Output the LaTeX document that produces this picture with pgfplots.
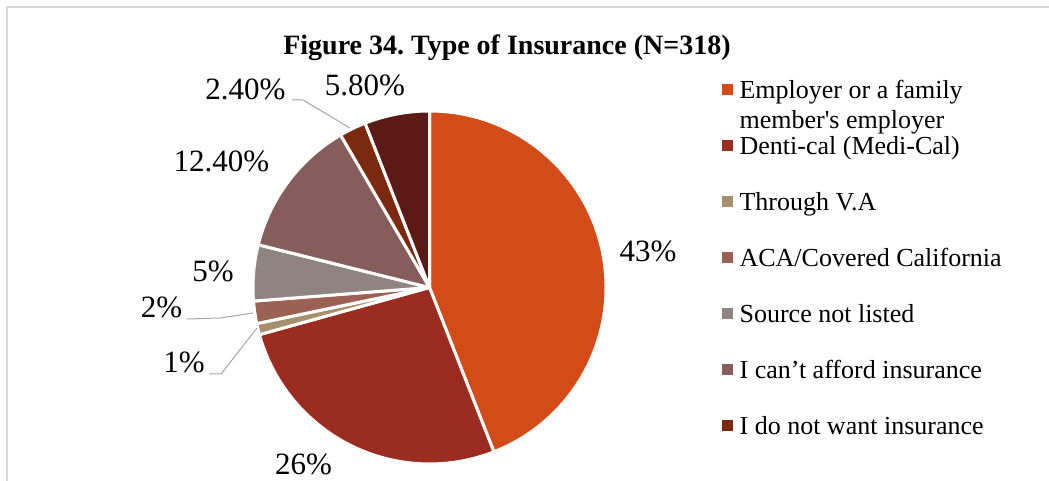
\documentclass[border=0pt]{standalone}
\usepackage{pgfplots}
\usepackage{pgfplotstable}
\pgfplotsset{compat=1.18}
\usepackage{fontspec}
\setmainfont{Liberation Serif}
\frenchspacing

\definecolor{c0}{HTML}{D24B18}
\definecolor{c1}{HTML}{9C2C20}
\definecolor{c2}{HTML}{A68F6C}
\definecolor{c3}{HTML}{9B6152}
\definecolor{c4}{HTML}{8F8482}
\definecolor{c5}{HTML}{875D5C}
\definecolor{c6}{HTML}{7C2A0F}
\definecolor{c7}{HTML}{5B1A15}
\definecolor{frame}{HTML}{D9D9D9}
\definecolor{leader}{HTML}{A6A6A6}

% share of each type of insurance (percent)
\pgfplotstableread{
value
43
26
1
2
5
12.4
2.4
5.8
}\piedata

% cumulative angles (clockwise from 12 o'clock, normalised to the total)
\xdef\total{0}
\foreach \i in {0,...,7}{%
  \pgfplotstablegetelem{\i}{value}\of\piedata
  \pgfmathsetmacro\t{\total+\pgfplotsretval}%
  \xdef\total{\t}%
}
\xdef\cum{0}
\foreach \i in {0,...,7}{%
  \pgfplotstablegetelem{\i}{value}\of\piedata
  \pgfmathsetmacro\sa{90-360*(\cum/\total)}%
  \pgfmathsetmacro\c{\cum+\pgfplotsretval}%
  \xdef\cum{\c}%
  \pgfmathsetmacro\ea{90-360*(\cum/\total)}%
  \expandafter\xdef\csname sa\i\endcsname{\sa}%
  \expandafter\xdef\csname ea\i\endcsname{\ea}%
}

\begin{document}
\begin{tikzpicture}
\begin{axis}[
  hide axis, scale only axis, clip=false,
  width=1049pt, height=481pt,
  xmin=0, xmax=1049, ymin=0, ymax=481,
  legend cell align=left,
  legend style={draw=none, fill=none, inner sep=0pt,
    at={(axis description cs:0.68827,0.83784)}, anchor=north west,
    row sep=30pt, column sep=7pt,
    font=\fontsize{26}{30}\selectfont,
    nodes={inner sep=0pt, text height=20pt, text depth=6pt}},
  legend image code/.code={\fill[#1] (0pt,-3.5pt) rectangle (10pt,6.5pt);},
]
% frame
\draw[frame, line width=1.5pt] (axis cs:7,-30) rectangle (axis cs:1080,474);
% slices
\pgfplotsinvokeforeach{0,...,7}{%
  \fill[c#1, draw=white, line width=3pt, line join=round]
    (axis cs:429.5,193.5) -- ++(\csname sa#1\endcsname:176.5pt)
    arc[start angle=\csname sa#1\endcsname, end angle=\csname ea#1\endcsname, radius=176.5pt] -- cycle;
}
% legend entries
\addlegendimage{c0}
\addlegendentry{\begin{tabular}[t]{@{}l@{}}Employer or a family\\member\textquotesingle s employer\end{tabular}}
\addlegendimage{c1}\addlegendentry{Denti-cal (Medi-Cal)}
\addlegendimage{c2}\addlegendentry{Through V.A}
\addlegendimage{c3}\addlegendentry{ACA/Covered California}
\addlegendimage{c4}\addlegendentry{Source not listed}
\addlegendimage{c5}\addlegendentry{I can’t afford insurance}
\addlegendimage{c6}\addlegendentry{I do not want insurance}
% leader lines
\draw[leader, line width=1pt] (axis cs:292,381) -- (axis cs:303,381) -- (axis cs:350,353);
\draw[leader, line width=1pt] (axis cs:187,162) -- (axis cs:220,163) -- (axis cs:253,168);
\draw[leader, line width=1pt] (axis cs:209,107) -- (axis cs:221,107) -- (axis cs:257,153);
% data labels
\begin{scope}[every node/.style={anchor=base, inner sep=0pt, font=\fontsize{31}{36}\selectfont}]
\node at (axis cs:648,219) {43\%};
\node at (axis cs:303.5,6) {26\%};
\node at (axis cs:184,108) {1\%};
\node at (axis cs:161.5,163) {2\%};
\node at (axis cs:213,199) {5\%};
\node at (axis cs:221.5,309) {12.40\%};
\node at (axis cs:245.5,381) {2.40\%};
\node at (axis cs:365,385) {5.80\%};
\end{scope}
% title
\node[anchor=base, inner sep=0pt, font=\bfseries\fontsize{28}{32}\selectfont] at (axis cs:507,426) {Figure 34. Type of Insurance (N=318)};
\end{axis}
\pgfresetboundingbox
\path[use as bounding box] (0,0) rectangle (1049pt,481pt);
\end{tikzpicture}
\end{document}
